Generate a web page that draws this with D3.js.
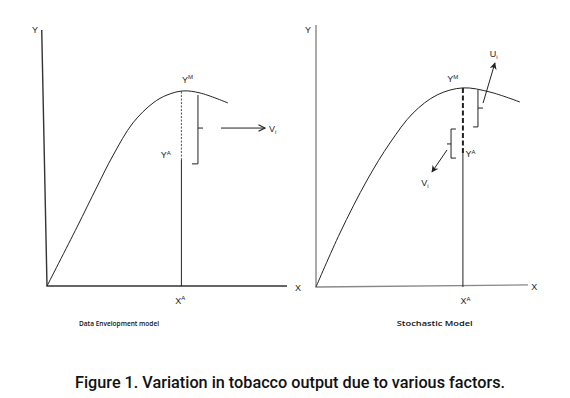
<!DOCTYPE html>
<html>
<head>
<meta charset="utf-8">
<script src="https://cdn.jsdelivr.net/npm/d3@7"></script>
<style>
  body { margin: 0; background: #fff; }
  svg { display: block; }
</style>
</head>
<body>
<div class="figure"></div>
<script>
// Production frontier points (data units, 0..10 on both axes).
const leftCurve = [[0, 0], [1.25, 2.3], [2.08, 3.87], [2.75, 5.1], [3.58, 6.37], [4.42, 7.15], [5.0, 7.46], [5.67, 7.62], [6.38, 7.54], [7.54, 7.15]];
const rightCurve = [[0, 0], [1.13, 2.06], [2.41, 4.08], [3.49, 5.5], [4.58, 6.64], [5.71, 7.33], [6.93, 7.6], [8.21, 7.44], [9.62, 7.06]];
// Observed input level X^A and the output levels on each panel.
const leftXA = 5.6, leftYM = 7.62, leftYA = 4.92;
const rightXA = 6.93, rightYM = 7.6, rightYA = 5.11;
// Axis end points (y axis top, origin, x axis end).
const leftAxis = [[-0.22, 10], [0, 0], [10, 0]];
const rightAxis = [[0, 10], [0, 0], [10, 0.08]];
// Panel titles and caption.
const panelTitles = ["Data Envelopment model", "Stochastic Model"];
const caption = "Figure 1. Variation in tobacco output due to various factors.";

const width = 570, height = 398;
const svg = d3.select(".figure").append("svg")
  .attr("width", width)
  .attr("height", height);

const defs = svg.append("defs");
// Open chevron arrow (left panel).
defs.append("marker")
  .attr("id", "open")
  .attr("viewBox", "0 0 10 10")
  .attr("refX", 9).attr("refY", 5)
  .attr("markerWidth", 8).attr("markerHeight", 8)
  .attr("markerUnits", "userSpaceOnUse")
  .attr("orient", "auto")
  .append("path")
  .attr("d", "M1,1 L9,5 L1,9")
  .attr("fill", "none")
  .attr("stroke", "#222")
  .attr("stroke-width", 1.4);
// Solid arrow head (right panel).
defs.append("marker")
  .attr("id", "solid")
  .attr("viewBox", "0 0 10 10")
  .attr("refX", 9).attr("refY", 5)
  .attr("markerWidth", 7).attr("markerHeight", 7)
  .attr("markerUnits", "userSpaceOnUse")
  .attr("orient", "auto")
  .append("path")
  .attr("d", "M0,0 L10,5 L0,10 L3,5 Z")
  .attr("fill", "#222");

const ink = "#222";
const labelFont = "Liberation Sans, Arial, sans-serif";

function label(g, x, y, main, sup, sub, anchor) {
  const t = g.append("text")
    .attr("x", x).attr("y", y)
    .attr("font-family", labelFont)
    .attr("font-size", 9)
    .attr("fill", ink)
    .attr("text-anchor", anchor || "start")
    .text(main);
  if (sup) t.append("tspan").attr("dy", -3.5).attr("font-size", 6).text(sup);
  if (sub) t.append("tspan").attr("dy", 2).attr("font-size", 6).text(sub);
  return t;
}

function seg(g, x, y, p, q, opts) {
  const o = opts || {};
  return g.append("line")
    .attr("x1", x(p[0])).attr("y1", y(p[1]))
    .attr("x2", x(q[0])).attr("y2", y(q[1]))
    .attr("stroke", o.color || ink)
    .attr("stroke-width", o.width || 1)
    .attr("stroke-dasharray", o.dash || null)
    .attr("marker-end", o.marker ? `url(#${o.marker})` : null);
}

function drawPanel(curve, x, y, axis, axisColor) {
  const g = svg.append("g");
  const line = d3.line().x(d => x(d[0])).y(d => y(d[1]));
  g.append("path")
    .datum(axis)
    .attr("d", line)
    .attr("fill", "none")
    .attr("stroke", axisColor)
    .attr("stroke-width", 1.4);
  g.append("path")
    .datum(curve)
    .attr("d", line.curve(d3.curveCatmullRom.alpha(0.5)))
    .attr("fill", "none")
    .attr("stroke", ink)
    .attr("stroke-width", 1);
  return g;
}

// ---- Left panel: Data Envelopment model ----
const xL = d3.scaleLinear().domain([0, 10]).range([47, 287]);
const yL = d3.scaleLinear().domain([0, 10]).range([286, 30]);
const gL = drawPanel(leftCurve, xL, yL, leftAxis, "#333");
seg(gL, xL, yL, [leftXA, 0], [leftXA, leftYA]);
seg(gL, xL, yL, [leftXA, leftYA], [leftXA, leftYM], { dash: "2,1.5", width: 0.8 });
// Bracket for inefficiency.
seg(gL, xL, yL, [6.29, 7.46], [6.29, 4.77]);
seg(gL, xL, yL, [6.29, 4.77], [6.04, 4.77]);
seg(gL, xL, yL, [6.29, 6.17], [6.5, 6.17]);
seg(gL, xL, yL, [7.25, 6.17], [9.08, 6.17], { marker: "open" });
label(gL, xL(9.25), yL(6.0), "V", null, "i");
label(gL, xL(5.85), yL(7.93), "Y", "M", null, "middle");
label(gL, xL(4.95), yL(5.0), "Y", "A", null, "middle");
label(gL, xL(5.55), yL(-0.7), "X", "A", null, "middle");
label(gL, xL(-0.5), yL(9.88), "Y", null, null, "middle");
label(gL, xL(10.46), yL(-0.2), "X", null, null, "middle");

// ---- Right panel: Stochastic Model ----
const xR = d3.scaleLinear().domain([0, 10]).range([316, 528]);
const yR = d3.scaleLinear().domain([0, 10]).range([287, 25]);
const gR = drawPanel(rightCurve, xR, yR, rightAxis, "#888");
seg(gR, xR, yR, [rightXA, 0], [rightXA, rightYA]);
seg(gR, xR, yR, [rightXA, rightYA], [rightXA, rightYM], { dash: "5,2.5", width: 2 });
// Upper bracket (U_i, technical inefficiency).
seg(gR, xR, yR, [7.64, 7.52], [7.64, 6.11]);
seg(gR, xR, yR, [7.64, 6.11], [7.41, 6.11]);
seg(gR, xR, yR, [7.64, 6.83], [7.88, 6.83]);
seg(gR, xR, yR, [7.88, 7.02], [8.44, 8.55], { marker: "solid" });
label(gR, xR(8.2), yR(8.78), "U", null, "i");
// Lower bracket (V_i, random noise).
seg(gR, xR, yR, [6.6, 6.03], [6.37, 6.03]);
seg(gR, xR, yR, [6.37, 6.03], [6.37, 4.92]);
seg(gR, xR, yR, [6.37, 4.92], [6.6, 4.92]);
seg(gR, xR, yR, [6.37, 5.46], [6.18, 5.46]);
seg(gR, xR, yR, [6.18, 5.23], [5.47, 4.39], { marker: "solid" });
label(gR, xR(5.14), yR(3.85), "V", null, "i", "middle");
label(gR, xR(6.45), yR(7.82), "Y", "M", null, "middle");
label(gR, xR(7.05), yR(4.96), "Y", "A");
label(gR, xR(7.05), yR(-0.65), "X", "A", null, "middle");
label(gR, xR(-0.38), yR(9.7), "Y", null, null, "middle");
label(gR, xR(10.15), yR(-0.12), "X");

// ---- Panel titles ----
const titleX = [xL(3.0), xR(5.6)];
const titleLen = [80, 76];
panelTitles.forEach((t, i) => {
  svg.append("text")
    .attr("x", titleX[i])
    .attr("y", 326)
    .attr("text-anchor", "middle")
    .attr("font-family", "Open Sans, sans-serif")
    .attr("font-size", 7.2)
    .attr("font-weight", 600)
    .attr("fill", "#111")
    .attr("textLength", titleLen[i])
    .attr("lengthAdjust", "spacingAndGlyphs")
    .text(t);
});

// ---- Caption ----
svg.append("text")
  .attr("x", 290)
  .attr("y", 388)
  .attr("text-anchor", "middle")
  .attr("font-family", "Roboto, sans-serif")
  .attr("font-size", 17)
  .attr("font-weight", 500)
  .attr("fill", "#111")
  .attr("textLength", 430)
  .attr("lengthAdjust", "spacingAndGlyphs")
  .text(caption);
</script>
</body>
</html>
